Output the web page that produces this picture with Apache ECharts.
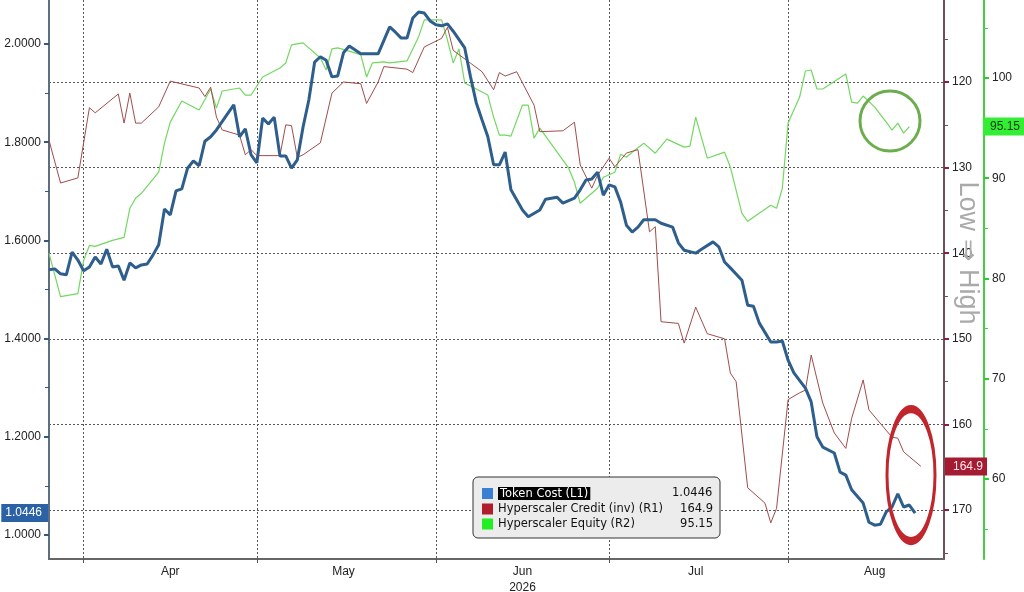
<!DOCTYPE html>
<html>
<head>
<meta charset="utf-8">
<title>Token Cost vs Hyperscaler Credit and Equity</title>
<script src="https://cdn.jsdelivr.net/npm/echarts@6/dist/echarts.min.js"></script>
<style>
  html, body { margin: 0; padding: 0; background: #ffffff; }
  #chart { width: 1024px; height: 592px; }
</style>
</head>
<body>
<div id="chart"></div>
<script>
// day offsets are counted from the first day of the x axis (2026-03-26)
const startDate = [2026, 2, 26];
const endDay = 155;

// Token Cost (L1)
const tokenDays = [
  0, 1, 2, 3, 4, 5, 6, 7, 8, 9, 10, 11, 12, 13, 14, 15, 16, 17, 18, 19, 20, 21, 22, 23, 24, 25, 26, 27, 28, 29,
  31, 32, 33, 34, 35, 36, 37, 38, 39, 40, 41, 42, 43, 44, 45, 46, 47, 48, 49, 50, 51, 52,
  54, 56, 57,
  59, 60, 61, 62, 63, 64, 65, 66, 67, 68, 69, 70,
  72, 73, 74, 75, 76, 77, 78, 79, 80,
  82, 83, 85, 86, 88, 89,
  91, 92, 93, 94, 95, 96, 97, 98, 99, 100, 101, 102, 103,
  105, 106, 108, 109, 110, 112, 113,
  115, 116, 117, 118, 120, 121, 122, 123,
  125, 126, 127, 128, 129, 131, 132, 133, 134,
  136, 137, 138, 139, 141, 142, 143, 144, 145, 146, 147, 148, 149, 150
];
const tokenCost = [
  1.540, 1.542, 1.532, 1.530, 1.576, 1.560, 1.538, 1.546, 1.566, 1.552, 1.582, 1.546, 1.548, 1.519, 1.554, 1.544, 1.550, 1.552, 1.570, 1.591, 1.664, 1.652, 1.701, 1.705, 1.747, 1.762, 1.752, 1.802, 1.811, 1.825,
  1.859, 1.876, 1.811, 1.827, 1.774, 1.758, 1.849, 1.837, 1.851, 1.772, 1.772, 1.747, 1.764, 1.831, 1.886, 1.963, 1.974, 1.967, 1.933, 1.935, 1.982, 1.996,
  1.980, 1.980, 1.980,
  2.035, 2.024, 2.012, 2.012, 2.053, 2.065, 2.063, 2.047, 2.039, 2.037, 2.041, 2.026,
  1.992, 1.933, 1.880, 1.845, 1.811, 1.754, 1.754, 1.780, 1.703,
  1.662, 1.648, 1.662, 1.684, 1.688, 1.676,
  1.686, 1.703, 1.723, 1.725, 1.739, 1.692, 1.713, 1.709, 1.678, 1.631, 1.617, 1.627, 1.642,
  1.642, 1.635, 1.627, 1.595, 1.580, 1.574, 1.582,
  1.597, 1.587, 1.556, 1.544, 1.519, 1.468, 1.466, 1.432,
  1.393, 1.393, 1.395, 1.356, 1.330, 1.299, 1.271, 1.200, 1.179,
  1.167, 1.128, 1.122, 1.092, 1.065, 1.026, 1.020, 1.022, 1.047, 1.057, 1.084, 1.057, 1.061, 1.0446
];

// Hyperscaler Credit (inv) (R1)
const creditDays = [
  0, 2, 5, 7, 8, 12, 13, 14, 15, 16, 19, 21, 26, 27, 28, 29, 30, 33, 34, 35,
  36, 40, 41, 42, 43, 44, 47, 49, 51, 54, 55, 57, 58, 62, 63, 65, 68, 69, 70, 73,
  75, 77, 78, 79, 81, 84, 85, 89, 91, 92, 94, 95, 97, 98, 100, 102, 104, 105, 106, 109,
  110, 112, 114, 117, 118, 119, 121, 124, 125, 126, 128, 130, 131, 132, 134, 136, 138, 139, 141, 142,
  146, 147, 148, 151
];
const credit = [
  126.8, 131.8, 131.2, 123.0, 123.6, 121.4, 124.8, 121.3, 124.8, 124.8, 122.9, 119.9, 120.7, 121.7, 120.6, 124.1, 125.6, 126.2, 128.5, 127.9,
  128.6, 128.6, 125.0, 125.1, 128.8, 128.5, 127.1, 121.3, 120.0, 120.2, 122.5, 120.0, 118.2, 118.5, 118.9, 115.9, 114.9, 113.6, 116.3, 117.8,
  118.8, 120.9, 118.9, 119.3, 118.8, 122.7, 125.8, 125.7, 124.7, 129.7, 132.4, 130.9, 128.9, 129.9, 128.3, 127.9, 137.5, 136.9, 148.0, 148.2,
  150.5, 146.3, 149.4, 150.0, 154.0, 155.0, 167.4, 169.2, 171.5, 169.8, 157.1, 156.3, 156.0, 151.9, 157.5, 161.0, 162.8, 159.3, 154.8, 158.3,
  161.5, 161.6, 163.2, 164.9
];

// Hyperscaler Equity (R2)
const equityDays = [
  0, 2, 5, 6, 7, 8, 11, 13, 14, 15, 16, 19, 20, 21, 23, 25, 26, 28, 29, 30,
  33, 34, 35, 37, 40, 41, 42, 44, 47, 48, 49, 50, 53, 54, 55, 56, 58, 59, 62, 64,
  65, 68, 69, 70, 71, 72, 76, 77, 78, 79, 80, 82, 83, 84, 85, 90, 91, 92, 95, 96,
  98, 99, 100, 101, 103, 105, 107, 110, 111, 112, 114, 117, 118, 120, 121, 125, 126, 127, 128, 130,
  131, 132, 133, 134, 138, 139, 140, 141, 143, 145, 146, 147, 148, 149
];
const equity = [
  82.5, 78.2, 78.5, 81.8, 83.3, 83.2, 83.8, 84.1, 87.0, 88.0, 88.5, 90.6, 93.5, 95.6, 97.7, 97.1, 96.8, 98.9, 97.0, 98.7,
  99.0, 98.3, 98.3, 100.1, 101.0, 101.5, 103.3, 103.5, 102.0, 100.8, 102.9, 103.0, 102.5, 102.3, 100.1, 101.5, 101.6, 101.5, 101.7, 104.1,
  105.8, 105.8, 103.8, 101.5, 102.9, 99.5, 98.3, 96.1, 94.3, 94.3, 94.2, 97.3, 97.3, 94.0, 95.0, 91.0, 89.6, 87.5, 89.0, 90.1,
  90.6, 92.4, 92.1, 92.6, 93.5, 92.5, 93.9, 93.1, 93.2, 96.1, 92.0, 92.6, 91.1, 86.5, 85.7, 87.3, 87.0, 89.0, 95.5, 98.1,
  100.7, 100.8, 98.9, 98.9, 100.4, 97.6, 97.5, 98.2, 97.1, 95.6, 94.8, 95.5, 94.5, 95.15
];

const seriesNames = ['Token Cost (L1)', 'Hyperscaler Credit (inv) (R1)', 'Hyperscaler Equity (R2)'];
const monthStarts = ['2026-04-01', '2026-05-01', '2026-06-01', '2026-07-01', '2026-08-01'];
const monthLabelDays = ['2026-04-16', '2026-05-16', '2026-06-16', '2026-07-16', '2026-08-16'];
const monthNames = ['Jan', 'Feb', 'Mar', 'Apr', 'May', 'Jun', 'Jul', 'Aug', 'Sep', 'Oct', 'Nov', 'Dec'];
const yearLabel = '2026';
const leftLabels = [1.0, 1.2, 1.4, 1.6, 1.8, 2.0];
const leftMinor = [1.1, 1.3, 1.5, 1.7, 1.9];
const creditLabels = [120, 130, 140, 150, 160, 170];
const creditMinor = [115, 125, 135, 145, 155, 165, 175];
const equityLabels = [60, 70, 80, 90, 100];
const equityMinor = [55, 65, 75, 85, 95, 105];

const FONT = 'Liberation Sans';
const LEGEND_FONT = 'DejaVu Sans';
const DAY_MS = 86400000;

function dayToDate(n) {
  return new Date(startDate[0], startDate[1], startDate[2] + n);
}
// date string -> day offset on the x axis
function dateToDay(s) {
  const p = s.split('-').map(Number);
  const t = new Date(p[0], p[1] - 1, p[2]).getTime();
  return Math.round((t - dayToDate(0).getTime()) / DAY_MS);
}
function toPairs(days, values) {
  return days.map((d, i) => [d, values[i]]);
}

const lastToken = tokenCost[tokenCost.length - 1];
const lastCredit = credit[credit.length - 1];
const lastEquity = equity[equity.length - 1];
const lastValues = {};
lastValues[seriesNames[0]] = lastToken.toFixed(4);
lastValues[seriesNames[1]] = lastCredit.toFixed(1);
lastValues[seriesNames[2]] = lastEquity.toFixed(2);

// width of the highlighted first legend name, so the value column still lines up
const measureCtx = document.createElement('canvas').getContext('2d');
measureCtx.font = '11.5px "' + LEGEND_FONT + '"';
const legendTextWidth = 215;
const valueWidth = 55;
const tokenNameWidth = Math.ceil(measureCtx.measureText(seriesNames[0]).width) + 4;

const chart = echarts.init(document.getElementById('chart'));

function minorAxis(base, values, color) {
  return Object.assign({}, base, {
    axisLine: { show: false, onZero: false },
    axisLabel: { show: false },
    splitLine: { show: false },
    axisTick: { show: true, length: 4, customValues: values, lineStyle: { color: color, width: 1 } }
  });
}

const leftBase = { type: 'value', position: 'left', min: 0.9511, max: 2.0896 };
const creditBase = { type: 'value', position: 'right', inverse: true, min: 110.42, max: 175.72 };
const equityBase = { type: 'value', position: 'right', offset: 40, min: 52.02, max: 107.78 };

const tagLabel = {
  show: true,
  fontFamily: FONT,
  fontSize: 12,
  borderRadius: 0,
  margin: 1
};

const option = {
  animation: false,
  backgroundColor: '#ffffff',
  grid: { left: 49, right: 80, top: 0, bottom: 33, outerBoundsMode: 'none' },
  legend: {
    orient: 'vertical',
    left: 473,
    top: 477,
    padding: [10, 7, 8, 9],
    itemGap: 3,
    itemWidth: 11,
    itemHeight: 11,
    icon: 'rect',
    backgroundColor: '#ececec',
    borderColor: '#333333',
    borderWidth: 1,
    borderRadius: 5,
    selectedMode: false,
    data: [
      { name: seriesNames[0], itemStyle: { color: '#3a80d2' } },
      { name: seriesNames[1], itemStyle: { color: '#b01c2e' } },
      { name: seriesNames[2], itemStyle: { color: '#22ee22' } }
    ],
    formatter: function (name) {
      const val = lastValues[name];
      if (name === seriesNames[0]) {
        return '{h|' + name + '}{t|' + val + '}';
      }
      return '{n|' + name + '}{v|' + val + '}';
    },
    textStyle: {
      fontFamily: LEGEND_FONT,
      fontSize: 11.5,
      color: '#111111',
      rich: {
        h: { fontFamily: LEGEND_FONT, fontSize: 11.5, color: '#ffffff', backgroundColor: '#000000', padding: [1, 2, 0, 2] },
        t: { fontFamily: LEGEND_FONT, fontSize: 11.5, color: '#111111', width: legendTextWidth - tokenNameWidth, align: 'right' },
        n: { fontFamily: LEGEND_FONT, fontSize: 11.5, color: '#111111', width: legendTextWidth - valueWidth },
        v: { fontFamily: LEGEND_FONT, fontSize: 11.5, color: '#111111', width: valueWidth, align: 'right' }
      }
    }
  },
  xAxis: {
    type: 'value',
    min: 0,
    max: endDay,
    axisLine: { onZero: false, lineStyle: { color: '#666666', width: 2 } },
    axisTick: { show: true, length: 4, customValues: monthStarts.map(dateToDay), lineStyle: { color: '#555555' } },
    axisLabel: {
      customValues: monthLabelDays.map(dateToDay),
      fontFamily: FONT,
      fontSize: 12,
      color: '#222222',
      margin: 5,
      lineHeight: 16,
      formatter: function (value) {
        const m = dayToDate(value).getMonth();
        return m === 5 ? monthNames[m] + '\n' + yearLabel : monthNames[m];
      }
    },
    splitLine: { show: true, lineStyle: { color: '#555555', type: [2, 2], width: 1 } }
  },
  yAxis: [
    Object.assign({}, leftBase, {
      axisLine: { show: true, onZero: false, lineStyle: { color: '#5d6e80', width: 2 } },
      axisTick: { show: true, length: 5, customValues: leftLabels, lineStyle: { color: '#34587e', width: 2 } },
      axisLabel: { customValues: leftLabels, fontFamily: FONT, fontSize: 12, color: '#222222', margin: 8, formatter: v => v.toFixed(4) },
      splitLine: { show: false },
      axisPointer: {
        show: true, type: 'none', status: 'show', value: lastToken, triggerTooltip: false,
        label: Object.assign({}, tagLabel, { backgroundColor: '#2b62a6', color: '#ffffff', padding: [3, 6, 3, 4], formatter: p => Number(p.value).toFixed(4) })
      }
    }),
    Object.assign({}, creditBase, {
      axisLine: { show: true, onZero: false, lineStyle: { color: '#6f4f5c', width: 2 } },
      axisTick: { show: true, length: 5, customValues: creditLabels, lineStyle: { color: '#8a2040', width: 2 } },
      axisLabel: { customValues: creditLabels, fontFamily: FONT, fontSize: 12, color: '#222222', margin: 8 },
      splitLine: { show: true, lineStyle: { color: '#555555', type: [2, 2], width: 1 } },
      axisPointer: {
        show: true, type: 'none', status: 'show', value: lastCredit, triggerTooltip: false,
        label: Object.assign({}, tagLabel, { backgroundColor: '#a51c32', color: '#ffe8ee', padding: [3, 4, 3, 8], formatter: p => Number(p.value).toFixed(1) })
      }
    }),
    Object.assign({}, equityBase, {
      axisLine: { show: true, onZero: false, lineStyle: { color: '#44cc44', width: 2 } },
      axisTick: { show: true, length: 5, customValues: equityLabels, lineStyle: { color: '#2ecc2e', width: 2 } },
      axisLabel: { customValues: equityLabels, fontFamily: FONT, fontSize: 12, color: '#222222', margin: 8 },
      splitLine: { show: false },
      axisPointer: {
        show: true, type: 'none', status: 'show', value: lastEquity, triggerTooltip: false,
        label: Object.assign({}, tagLabel, { backgroundColor: '#33ee33', color: '#124012', padding: [3, 4, 3, 7], formatter: p => Number(p.value).toFixed(2) })
      }
    }),
    minorAxis(leftBase, leftMinor, '#34587e'),
    minorAxis(creditBase, creditMinor, '#6f4f5c'),
    minorAxis(equityBase, equityMinor, '#44cc44')
  ],
  series: [
    {
      name: seriesNames[2],
      type: 'line',
      yAxisIndex: 2,
      data: toPairs(equityDays, equity),
      showSymbol: false,
      itemStyle: { color: '#22ee22' },
      lineStyle: { color: '#72d860', width: 1.2 },
      z: 2
    },
    {
      name: seriesNames[1],
      type: 'line',
      yAxisIndex: 1,
      data: toPairs(creditDays, credit),
      showSymbol: false,
      itemStyle: { color: '#b01c2e' },
      lineStyle: { color: '#a04c4c', width: 1 },
      z: 3
    },
    {
      name: seriesNames[0],
      type: 'line',
      yAxisIndex: 0,
      data: toPairs(tokenDays, tokenCost),
      showSymbol: false,
      itemStyle: { color: '#3a80d2' },
      lineStyle: { color: '#2e5e8c', width: 3 },
      z: 4
    }
  ],
  graphic: [
    {
      type: 'text',
      x: 967,
      y: 253,
      rotation: -Math.PI / 2,
      z: 100,
      style: { text: 'Low \u21D2 High', fill: '#aaaaaa', font: '27px "Liberation Sans"', align: 'center', verticalAlign: 'middle' }
    },
    {
      type: 'circle',
      z: 100,
      shape: { cx: 890, cy: 121, r: 30 },
      style: { fill: 'none', stroke: '#6cae4e', lineWidth: 3 }
    },
    {
      type: 'circle',
      z: 100,
      x: 911,
      y: 475,
      scaleY: 66 / 24,
      shape: { cx: 0, cy: 0, r: 24 },
      style: { fill: 'none', stroke: '#c0262c', lineWidth: 3, strokeNoScale: true }
    }
  ]
};

chart.setOption(option);
</script>
</body>
</html>
